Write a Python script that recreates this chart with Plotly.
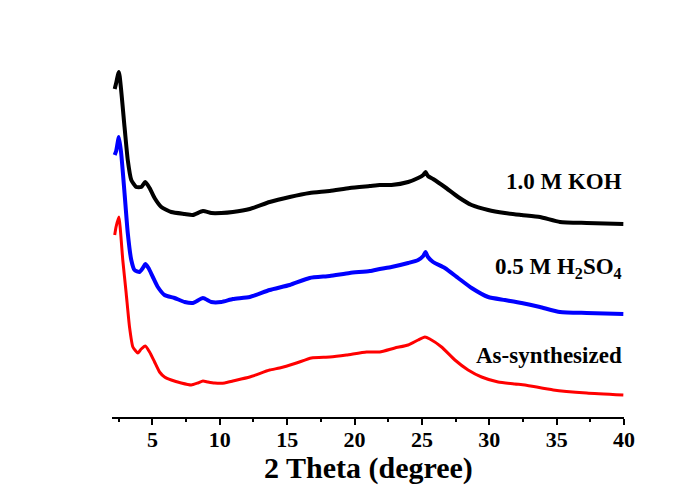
import plotly.graph_objects as go

# 2-theta positions and intensities (arbitrary units, offset stacked)
koh_x = [2.20, 2.31, 2.51, 2.93, 3.17, 3.43, 3.80, 4.17, 4.47, 4.79, 5.16, 5.66, 6.40, 7.39, 8.00,
         8.75, 9.37, 10.11, 10.97, 12.22, 13.70, 15.19, 16.67, 18.16, 19.64, 21.13, 21.87,
         22.74, 23.98, 24.72, 25.10, 25.27, 25.45, 25.83, 26.70, 27.69, 28.69, 29.92, 31.16,
         32.40, 33.76, 35.25, 37.23, 39.95]
koh_y = [328, 334, 345, 290, 257, 237, 230, 230, 235, 229, 219, 210, 205, 203, 202,
         206, 204, 204, 205, 208, 215, 220, 224, 226, 229, 231, 232,
         232, 235, 239, 242, 245, 241, 238, 230, 220, 212, 207, 204,
         202, 200, 195, 194, 193]

h2so4_x = [2.20, 2.31, 2.51, 2.68, 2.93, 3.17, 3.43, 3.67, 4.04, 4.29, 4.47, 4.71, 5.03, 5.40, 5.90,
           6.64, 7.39, 8.00, 8.75, 9.37, 10.11, 10.97, 12.22, 13.70, 15.19, 16.67, 18.16,
           19.64, 21.13, 21.87, 22.74, 23.98, 24.72, 25.10, 25.27, 25.45, 25.83, 26.70, 27.69,
           28.69, 29.92, 31.16, 32.40, 33.76, 35.25, 37.23, 39.95]
h2so4_y = [262, 266, 280, 264, 224, 184, 157, 147, 145, 149, 153, 149, 140, 130, 122,
           119, 115, 114, 119, 115, 115, 118, 120, 127, 132, 139, 141,
           144, 146, 148, 150, 154, 157, 161, 165, 160, 155, 149, 139,
           129, 120, 117, 114, 110, 105, 104, 103]

as_x = [2.20, 2.30, 2.51, 2.80, 3.05, 3.30, 3.55, 3.92, 4.17, 4.47, 4.79, 5.16, 5.53, 5.90, 6.40,
        7.14, 7.88, 8.37, 8.75, 9.12, 9.62, 10.36, 10.97, 12.22, 13.70, 14.44, 15.69, 16.80,
        18.16, 19.40, 20.89, 21.87, 22.99, 23.98, 24.72, 25.22, 25.59, 26.46, 27.45, 28.43,
        29.43, 30.66, 31.90, 32.65, 34.75, 37.23, 39.95]
as_y = [182, 190, 200, 157, 124, 90, 70, 64, 68, 71, 65, 55, 45, 40, 37,
        34, 32, 34, 36, 35, 34, 34, 36, 40, 47, 49, 54, 59,
        60, 62, 65, 65, 69, 72, 77, 80, 78, 70, 57, 47,
        40, 35, 33, 32, 27, 24, 22]

labels = ["1.0 M KOH", "0.5 M H<sub>2</sub>SO<sub>4</sub>", "As-synthesized"]
label_y = [236, 149, 62]
x_title = "2 Theta (degree)"

fig = go.Figure()
fig.add_trace(go.Scatter(x=koh_x, y=koh_y, mode="lines",
                         line=dict(color="#000000", width=4, shape="spline", smoothing=0.5)))
fig.add_trace(go.Scatter(x=h2so4_x, y=h2so4_y, mode="lines",
                         line=dict(color="#0000FF", width=4, shape="spline", smoothing=0.5)))
fig.add_trace(go.Scatter(x=as_x, y=as_y, mode="lines",
                         line=dict(color="#FF0000", width=3, shape="spline", smoothing=0.5)))

for t, yy in zip(labels, label_y):
    fig.add_annotation(x=40, y=yy, xref="x", yref="y", text="<b>" + t + "</b>",
                       showarrow=False, xanchor="right", yanchor="middle",
                       font=dict(family="Liberation Serif", size=23, color="#000000"))

# x-axis title placed below the tick labels
fig.add_annotation(x=0.5, y=-0.135, xref="paper", yref="paper", text="<b>" + x_title + "</b>",
                   showarrow=False, xanchor="center", yanchor="middle",
                   font=dict(family="Liberation Serif", size=30, color="#000000"))

fig.update_layout(
    width=676, height=488,
    margin=dict(l=112, r=52, t=40, b=71),
    plot_bgcolor="white", paper_bgcolor="white",
    showlegend=False,
    font=dict(family="Liberation Serif", color="#000000"),
)
fig.update_xaxes(
    range=[2, 40], tick0=0, dtick=5,
    automargin=False,
    showline=True, linecolor="#000000", linewidth=2,
    ticks="outside", ticklen=6, tickwidth=2, tickcolor="#000000",
    minor=dict(ticks="outside", ticklen=3, tickwidth=2, tickcolor="#000000", dtick=2.5, tick0=0),
    showgrid=False, zeroline=False,
    ticklabelstandoff=-4,
    tickfont=dict(family="Liberation Serif", size=22, color="#000000", weight="bold"),
)
fig.update_yaxes(range=[0, 377], visible=False, showgrid=False, zeroline=False, automargin=False)

fig.write_html("out.html")
